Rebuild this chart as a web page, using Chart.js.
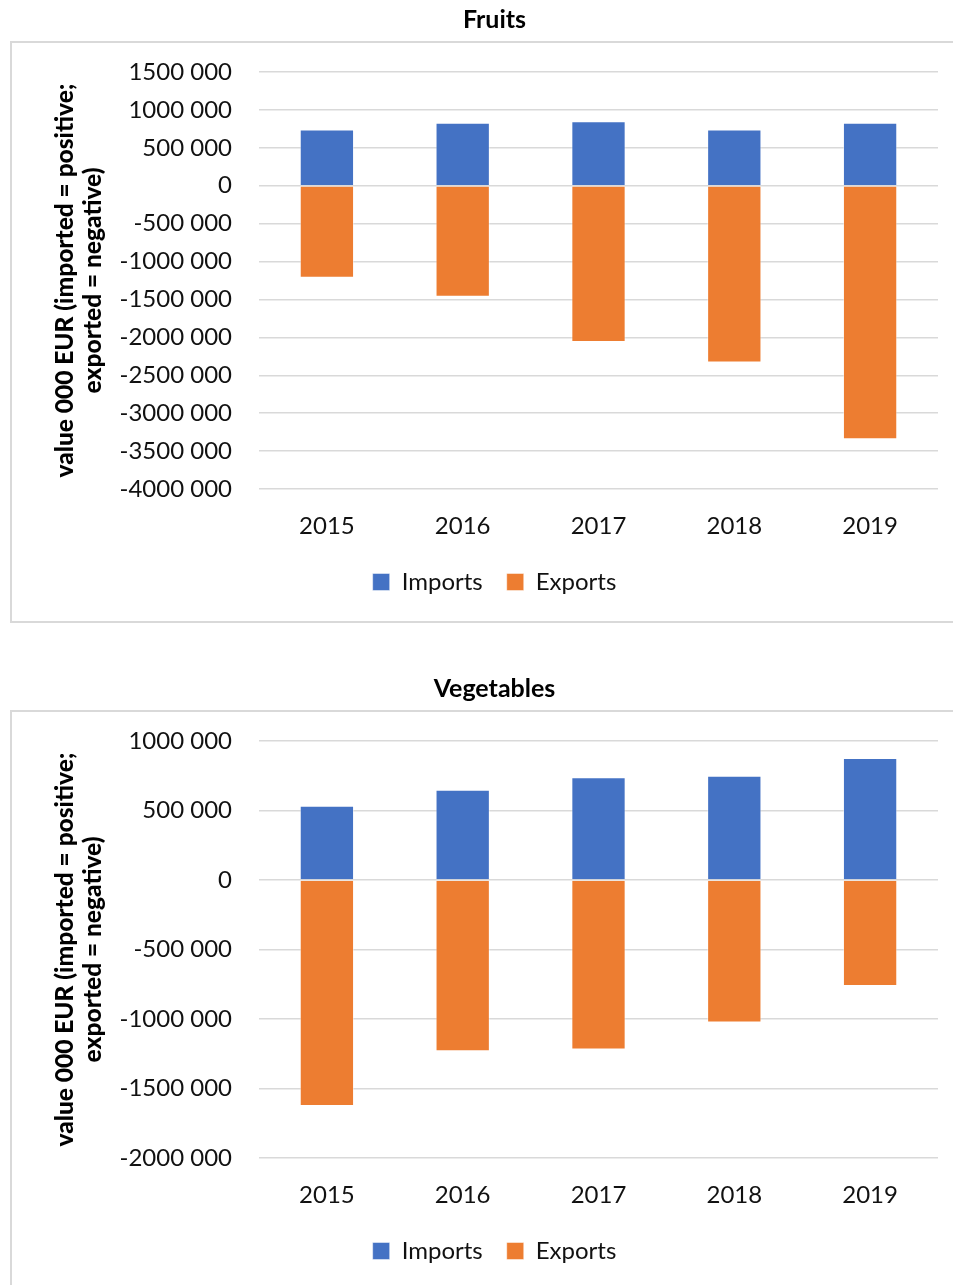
<!DOCTYPE html>
<html>
<head>
<meta charset="utf-8">
<script src="https://cdn.jsdelivr.net/npm/chart.js@4.4.1/dist/chart.umd.min.js"></script>
<style>
  html, body { margin: 0; padding: 0; background: #fff; overflow: hidden; }
  .frame { position: absolute; left: 10px; width: 960px; height: 582px; border: 2px solid #d9d9d9; box-sizing: border-box; }
  .wrap { position: absolute; left: 0; width: 953px; height: 630px; }
</style>
</head>
<body>
<div class="frame" style="top:41px"></div>
<div class="frame" style="top:710px"></div>
<div class="wrap" style="top:0"><canvas id="fruitsChart" width="953" height="630"></canvas></div>
<div class="wrap" style="top:669px"><canvas id="vegChart" width="953" height="630"></canvas></div>
<script>
const years = ["2015", "2016", "2017", "2018", "2019"];

const fruitImports = [740000, 830000, 850000, 740000, 830000];
const fruitExports = [-1215000, -1465000, -2060000, -2330000, -3345000];

const vegImports = [535000, 650000, 740000, 750000, 877000];
const vegExports = [-1625000, -1232000, -1220000, -1026000, -762000];

const axisTitle = ["value 000 EUR (imported = positive;", "exported = negative)"];

const blue = "#4472C4";
const orange = "#ED7D31";
const gridColor = "#d9d9d9";
const font = "Lato";

// Excel style: only the thousands group is separated, e.g. "1500 000"
function fmt(v) {
    if (v === 0) return "0";
    const sign = v < 0 ? "-" : "";
    const a = Math.abs(v);
    return sign + Math.floor(a / 1000) + " " + String(a % 1000).padStart(3, "0");
}

function makeChart(id, title, imports, exports, yMin, yMax) {
    new Chart(document.getElementById(id), {
        type: "bar",
        data: {
            labels: years,
            datasets: [
                { label: "Imports", data: imports, backgroundColor: blue, borderColor: "rgba(255,255,255,0.45)", borderWidth: 1 },
                { label: "Exports", data: exports, backgroundColor: orange, borderColor: "rgba(255,255,255,0.45)", borderWidth: 1 }
            ]
        },
        options: {
            responsive: false,
            animation: false,
            barPercentage: 0.4,
            categoryPercentage: 1,
            layout: { padding: { left: 51, right: 15, top: 0, bottom: 26 } },
            plugins: {
                title: {
                    display: true,
                    text: title,
                    color: "#000",
                    font: { family: font, size: 25, weight: "bold" },
                    padding: { top: 5, bottom: 37 }
                },
                legend: {
                    position: "bottom",
                    labels: {
                        color: "#111",
                        font: { family: font, size: 24 },
                        boxWidth: 17,
                        boxHeight: 17,
                        padding: 24
                    }
                },
                tooltip: { enabled: false }
            },
            scales: {
                x: {
                    stacked: true,
                    grid: { display: false },
                    border: { display: false },
                    ticks: { color: "#111", font: { family: font, size: 24 }, padding: 15 },
                    afterFit: (s) => { s.height = 57; }
                },
                y: {
                    stacked: true,
                    min: yMin,
                    max: yMax,
                    grid: { color: gridColor, lineWidth: 1.5, drawTicks: false },
                    border: { display: false },
                    ticks: { stepSize: 500000, color: "#111", font: { family: font, size: 24 }, padding: 27, callback: fmt },
                    title: {
                        display: true,
                        text: axisTitle,
                        color: "#000",
                        font: { family: font, size: 24.5, weight: "900", lineHeight: 1.15 },
                        padding: { top: 0, bottom: 0 }
                    },
                    afterFit: (s) => { s.width = 208; }
                }
            }
        }
    });
}

makeChart("fruitsChart", "Fruits", fruitImports, fruitExports, -4000000, 1500000);
makeChart("vegChart", "Vegetables", vegImports, vegExports, -2000000, 1000000);
</script>
</body>
</html>
